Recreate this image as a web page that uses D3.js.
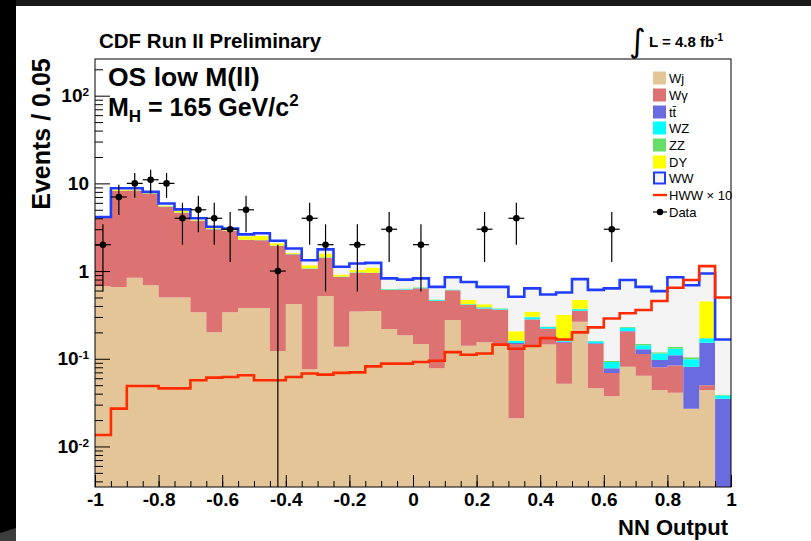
<!DOCTYPE html>
<html><head><meta charset="utf-8">
<script src="https://cdn.jsdelivr.net/npm/d3@7"></script>
<style>html,body{margin:0;padding:0;background:#000;overflow:hidden}svg{display:block}</style>
</head><body>
<script>
// ---- data ----
const binWidth = 0.05;
const binLow = [-1,-0.95,-0.9,-0.85,-0.8,-0.75,-0.7,-0.65,-0.6,-0.55,
  -0.5,-0.45,-0.4,-0.35,-0.3,-0.25,-0.2,-0.15,-0.1,-0.05,
  0,0.05,0.1,0.15,0.2,0.25,0.3,0.35,0.4,0.45,
  0.5,0.55,0.6,0.65,0.7,0.75,0.8,0.85,0.9,0.95];
const Wj = [0.67,0.66,0.84,0.69,0.50,0.50,0.34,0.20,0.34,0.38,
  0.38,0.123,0.42,0.076,0.52,0.137,0.347,0.35,0.218,0.186,
  0.147,0.078,0.276,0.141,0.154,0.14,0.021,0.143,0.145,0.052,
  0.264,0.046,0.0375,0.081,0.064,0.044,0.041,0.027,0.044,0.002];
const Wg = [3.35,7.5,7.45,6.9,4.9,4.1,3.4,2.8,2.55,1.88,
  1.86,1.82,1.14,0.98,0.90,0.72,0.61,0.60,0.39,0.43,
  0.49,0.38,0.33,0.27,0.22,0.225,0.126,0.137,0.073,0.10,
  0.086,0.101,0.0315,0.123,0.049,0.036,0.043,0,0.006,0];
const tt = [0,0,0,0,0,0,0,0,0,0,
  0,0,0,0,0,0,0,0,0,0,
  0,0,0,0,0,0,0.004,0.003,0.003,0.004,
  0.003,0.003,0.009,0.004,0.015,0.017,0.026,0.054,0.102,0.033];
const WZ = [0.02,0.03,0.03,0.03,0.03,0.02,0.02,0.02,0.01,0.01,
  0.01,0.01,0.01,0.01,0.01,0.005,0.005,0.005,0.01,0.01,
  0.01,0.01,0.005,0.005,0.01,0.008,0.009,0.015,0.01,0.005,
  0.015,0.008,0.014,0.018,0.015,0.018,0.02,0.018,0.018,0.003];
const ZZ = [0.01,0.03,0.03,0.03,0.07,0.03,0.02,0.02,0.01,0.01,
  0.01,0.01,0.01,0.01,0.01,0.005,0.005,0.005,0.005,0.005,
  0.005,0.005,0.005,0.005,0.005,0.005,0.002,0.003,0.003,0.002,
  0.003,0.003,0.003,0.004,0.004,0.004,0.007,0.005,0.002,0.001];
const DY = [0.03,0.2,0.15,0.15,0.1,0.25,0.07,0.05,0.05,0.22,
  0.25,0.11,0.03,0.09,0.15,0.05,0.06,0.14,0,0,
  0,0,0,0.05,0.03,0,0.044,0.043,0,0.155,
  0.1,0,0,0,0,0,0,0,0.28,0];
const WW = [0.05,0.38,0.3,0.2,0.3,0.15,0.15,0.11,0.09,0.12,
  0.19,0.147,0.2,0.164,0.18,0.203,0.193,0.14,0.202,0.169,
  0.173,0.187,0.234,0.279,0.241,0.282,0.304,0.291,0.306,0.252,
  0.339,0.449,0.54,0.56,0.513,0.471,0.713,0.586,0.488,0.127];
const HWWx10 = [0.0135,0.027,0.049,0.049,0.046,0.046,0.057,0.061,0.062,0.065,
  0.057,0.057,0.062,0.068,0.066,0.069,0.070,0.082,0.088,0.088,
  0.092,0.095,0.119,0.111,0.115,0.145,0.130,0.140,0.172,0.166,
  0.200,0.228,0.288,0.330,0.360,0.455,0.645,0.790,1.140,0.500];
const dataCounts = [2,7,10,11,10,4,5,4,3,5,
  0,1,0,4,2,0,2,0,3,0,
  2,0,0,0,3,0,4,0,0,0,
  0,0,3,0,0,0,0,0,0,0];
const xTickValues = [-1,-0.8,-0.6,-0.4,-0.2,0,0.2,0.4,0.6,0.8,1];
const xTickLabels = ["-1","-0.8","-0.6","-0.4","-0.2","0","0.2","0.4","0.6","0.8","1"];
const yTickValues = [0.01,0.1,1,10,100];
const yTickBase = ["10","10","1","10","10"];
const yTickExp = ["-2","-1","","","2"];
const legendNames = ["Wj","Wγ","tt̄","WZ","ZZ","DY","WW","HWW × 10","Data"];
const keys = ["Wj","Wg","tt","WZ","ZZ","DY","WW"];
const colors = {Wj:"#e3c597",Wg:"#dc7272",tt:"#6b6be0",WZ:"#00ffff",ZZ:"#66dd66",DY:"#ffff00",WW:"#f4f4f4"};

// ---- layout ----
const W = 811, H = 541;
const PL = 95, PR = 731, PT = 59, PB = 487;
const font = "'Liberation Sans', Arial, Helvetica, sans-serif";

const svg = d3.select("body").append("svg").attr("width",W).attr("height",H)
  .attr("font-family",font);
svg.append("rect").attr("width",W).attr("height",H).attr("fill","#000");
svg.append("rect").attr("x",16).attr("y",0).attr("width",W-16).attr("height",6).attr("fill","#1a1a1a");
svg.append("polygon").attr("points","0,533 16,528 16,541 0,541").attr("fill","#3c3c3c");
svg.append("rect").attr("x",16).attr("y",6).attr("width",W-16).attr("height",H-6).attr("fill","#fff");

const x = d3.scaleLinear().domain([-1,1]).range([PL,PR]);
const yMin = 0.00345, yMax = 262;
const y = d3.scaleLog().domain([yMin,yMax]).range([PB,PT]).clamp(true);
const ys = v => y(Math.max(v,yMin));

svg.append("clipPath").attr("id","clip").append("rect")
  .attr("x",PL).attr("y",PT).attr("width",PR-PL).attr("height",PB-PT);
const plot = svg.append("g").attr("clip-path","url(#clip)");

const rows = binLow.map((lo,i)=>({lo, Wj:Wj[i], Wg:Wg[i], tt:tt[i], WZ:WZ[i], ZZ:ZZ[i], DY:DY[i], WW:WW[i]}));
const series = d3.stack().keys(keys)(rows);

function stepPts(vals0, vals1){
  const pts = [];
  binLow.forEach((lo,i)=>{
    pts.push({x:lo, y0:vals0[i], y1:vals1[i]});
    pts.push({x:lo+binWidth, y0:vals0[i], y1:vals1[i]});
  });
  return pts;
}
const area = d3.area().x(p=>x(p.x)).y0(p=>ys(p.y0)).y1(p=>ys(p.y1));
series.forEach(s=>{
  const pts = stepPts(s.map(d=>d[0]), s.map(d=>d[1]));
  plot.append("path").attr("d",area(pts)).attr("fill",colors[s.key]);
});
const stepLine = d3.line().x(p=>x(p.x)).y(p=>ys(p.y1));
const stackTop = series[series.length-1].map(d=>d[1]);
plot.append("path").attr("d",stepLine(stepPts(stackTop,stackTop))).attr("fill","none")
  .attr("stroke","#1f3cff").attr("stroke-width",2.6);
plot.append("path").attr("d",stepLine(stepPts(HWWx10,HWWx10))).attr("fill","none")
  .attr("stroke","#ff2a00").attr("stroke-width",2.6);

// data points
const dg = plot.append("g");
dataCounts.forEach((n,i)=>{
  if(n<=0) return;
  const cx = x(binLow[i]+binWidth/2);
  const e = Math.sqrt(n);
  dg.append("line").attr("x1",cx).attr("x2",cx).attr("y1",ys(n+e)).attr("y2",ys(n-e))
    .attr("stroke","#000").attr("stroke-width",1.2);
  dg.append("line").attr("x1",x(binLow[i])).attr("x2",x(binLow[i]+binWidth)).attr("y1",ys(n)).attr("y2",ys(n))
    .attr("stroke","#000").attr("stroke-width",1.2);
  dg.append("circle").attr("cx",cx).attr("cy",ys(n)).attr("r",3.3).attr("fill","#000");
});

// frame
svg.append("rect").attr("x",PL).attr("y",PT).attr("width",PR-PL).attr("height",PB-PT)
  .attr("fill","none").attr("stroke","#000").attr("stroke-width",1);

// x axis
const xMinor = d3.range(0,41).map(i=>-1+i*binWidth);
const gxm = svg.append("g").attr("transform",`translate(0,${PB})`)
  .call(d3.axisBottom(x).tickValues(xMinor).tickSize(-6).tickFormat(""));
gxm.select(".domain").remove();
const gx = svg.append("g").attr("transform",`translate(0,${PB})`)
  .call(d3.axisBottom(x).tickValues(xTickValues).tickSize(-12).tickPadding(6)
    .tickFormat((d,i)=>xTickLabels[i]));
gx.select(".domain").remove();
gx.selectAll("text").attr("font-size",19).attr("font-weight","bold").attr("font-family",font).attr("fill","#000");

// y axis
const yMinorVals = [];
[-3,-2,-1,0,1,2].forEach(k=>{ for(let m=2;m<=9;m++){ const v=m*Math.pow(10,k); if(v>yMin && v<yMax) yMinorVals.push(v);} });
const gym = svg.append("g").attr("transform",`translate(${PL},0)`)
  .call(d3.axisLeft(y).tickValues(yMinorVals).tickSize(-8).tickFormat(""));
gym.select(".domain").remove();
const gy = svg.append("g").attr("transform",`translate(${PL},0)`)
  .call(d3.axisLeft(y).tickValues(yTickValues).tickSize(-15).tickPadding(6).tickFormat(""));
gy.select(".domain").remove();
gy.selectAll(".tick text").each(function(d,i){
  const t = d3.select(this).attr("font-size",19).attr("font-weight","bold").attr("font-family",font).attr("fill","#000");
  t.text(null);
  t.append("tspan").text(yTickBase[i]);
  if(yTickExp[i]) t.append("tspan").attr("dy","-0.55em").attr("font-size","0.62em").text(yTickExp[i]);
});
svg.selectAll(".tick line").attr("stroke","#000");

// titles
svg.append("text").attr("x",99).attr("y",48).attr("font-size",20.5).attr("font-weight","bold").text("CDF Run II Preliminary");
svg.append("text").attr("x",629).attr("y",52).attr("font-size",32).attr("font-family","'DejaVu Sans', sans-serif").text("∫");
const lt = svg.append("text").attr("x",649).attr("y",47).attr("font-size",15).attr("font-weight","bold");
lt.append("tspan").text("L = 4.8 fb");
lt.append("tspan").attr("dy",-6).attr("font-size",10).text("-1");

svg.append("text").attr("x",108).attr("y",86).attr("font-size",26.5).attr("font-weight","bold").text("OS low M(ll)");
const mh = svg.append("text").attr("x",108).attr("y",116).attr("font-size",25).attr("font-weight","bold");
mh.append("tspan").text("M");
mh.append("tspan").attr("dy",6).attr("font-size",17).text("H");
mh.append("tspan").attr("dy",-6).text(" = 165 GeV/c");
mh.append("tspan").attr("dy",-10).attr("font-size",17).text("2");

svg.append("text").attr("transform","translate(50,134) rotate(-90)").attr("text-anchor","middle")
  .attr("font-size",25).attr("font-weight","bold").text("Events / 0.05");
svg.append("text").attr("x",728).attr("y",535).attr("text-anchor","end")
  .attr("font-size",22).attr("font-weight","bold").text("NN Output");

// legend
const lg = svg.append("g");
const legY = [78,95,112,128,145,162,178,195,212];
legendNames.forEach((name,i)=>{
  const cy = legY[i];
  if(i<6){
    lg.append("rect").attr("x",653).attr("y",cy-6.5).attr("width",13).attr("height",13).attr("fill",colors[keys[i]]);
  } else if(i===6){
    lg.append("rect").attr("x",654).attr("y",cy-5.5).attr("width",11).attr("height",11).attr("fill",colors.WW)
      .attr("stroke","#1f3cff").attr("stroke-width",2);
  } else if(i===7){
    lg.append("line").attr("x1",653).attr("x2",667).attr("y1",cy).attr("y2",cy).attr("stroke","#ff2a00").attr("stroke-width",2.4);
  } else {
    lg.append("line").attr("x1",653).attr("x2",667).attr("y1",cy).attr("y2",cy).attr("stroke","#000").attr("stroke-width",1.2);
    lg.append("circle").attr("cx",660).attr("cy",cy).attr("r",3.2).attr("fill","#000");
  }
  lg.append("text").attr("x",669).attr("y",cy+4.5).attr("font-size",13).text(name);
});
</script>
</body></html>
